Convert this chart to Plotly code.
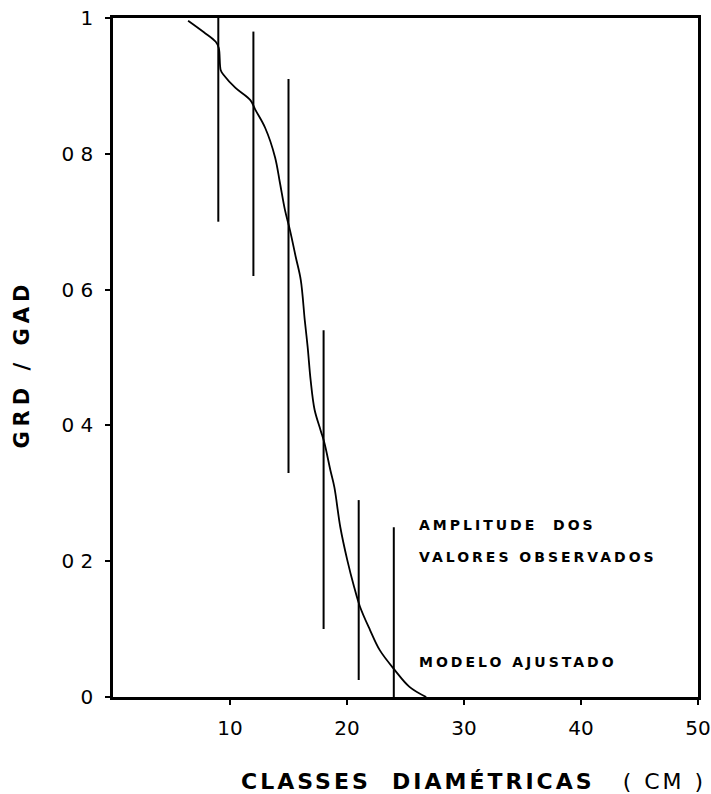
import plotly.graph_objects as go

# Diameter classes (cm) and the range of observed GRD/GAD values in each class
classes = [9, 12, 15, 18, 21, 24]
obs_min = [0.70, 0.62, 0.33, 0.10, 0.025, 0.0]
obs_max = [1.00, 0.98, 0.91, 0.54, 0.29, 0.25]

# Fitted model curve GRD/GAD vs. diameter
model_x = [6.42, 7.77, 8.78, 9.04, 9.21, 9.46, 10.47, 11.74, 12.16, 13.01,
           13.85, 14.27, 14.70, 15.12, 15.62, 16.05, 16.39, 16.64, 16.89,
           17.23, 17.74, 18.07, 18.58, 18.92, 19.43, 20.02, 20.61, 21.11,
           21.96, 22.80, 24.07, 25.34, 26.77]
model_y = [0.996, 0.979, 0.965, 0.956, 0.923, 0.916, 0.897, 0.879, 0.865,
           0.838, 0.795, 0.757, 0.717, 0.688, 0.648, 0.614, 0.555, 0.515,
           0.467, 0.423, 0.393, 0.374, 0.334, 0.309, 0.250, 0.202, 0.162,
           0.133, 0.099, 0.069, 0.040, 0.015, 0.0]

x_ticks = [10, 20, 30, 40, 50]
x_ticktext = ["10", "20", "30", "40", "50"]
y_ticks = [0, 0.2, 0.4, 0.6, 0.8, 1.0]
y_ticktext = ["0", "0 2", "0 4", "0 6", "0 8", "1"]

# Build one trace of vertical segments (None breaks the line between classes)
seg_x, seg_y = [], []
for c, lo, hi in zip(classes, obs_min, obs_max):
    seg_x += [c, c, None]
    seg_y += [lo, hi, None]

fig = go.Figure()
fig.add_trace(go.Scatter(
    x=seg_x, y=seg_y, mode="lines",
    line=dict(color="black", width=2),
    hoverinfo="skip", showlegend=False,
))
fig.add_trace(go.Scatter(
    x=model_x, y=model_y, mode="lines",
    line=dict(color="black", width=1.8, shape="spline", smoothing=1.0),
    showlegend=False,
))

LETTER = "DejaVu Sans"

def spaced(text, sp, weight="bold"):
    return f'<span style="letter-spacing:{sp}px;font-weight:{weight}">{text}</span>'

annotations = [
    dict(x=26.0, y=0.253, xref="x", yref="y", xanchor="left", yanchor="middle",
         text=spaced("AMPLITUDE&nbsp;&nbsp;DOS", 3.0), showarrow=False,
         font=dict(family=LETTER, size=14, color="black")),
    dict(x=26.0, y=0.206, xref="x", yref="y", xanchor="left", yanchor="middle",
         text=spaced("VALORES OBSERVADOS", 3.0), showarrow=False,
         font=dict(family=LETTER, size=14, color="black")),
    dict(x=26.0, y=0.0515, xref="x", yref="y", xanchor="left", yanchor="middle",
         text=spaced("MODELO AJUSTADO", 3.0), showarrow=False,
         font=dict(family=LETTER, size=14, color="black")),
    dict(x=0.617, y=-0.125, xref="paper", yref="paper", xanchor="center", yanchor="middle",
         text=spaced("CLASSES&nbsp;&nbsp;DIAMÉTRICAS", 3.0)
         + "&nbsp;&nbsp;&nbsp;&nbsp;" + spaced("(&nbsp;CM&nbsp;)", 3, "normal"),
         showarrow=False, font=dict(family=LETTER, size=22, color="black")),
    dict(x=-0.155, y=0.49, xref="paper", yref="paper", xanchor="center", yanchor="middle",
         text=spaced("GRD&nbsp;/&nbsp;GAD", 5), textangle=-90, showarrow=False,
         font=dict(family=LETTER, size=21, color="black")),
]

fig.update_layout(
    width=711, height=794,
    margin=dict(l=113, r=13, t=18, b=97, autoexpand=False),
    paper_bgcolor="white", plot_bgcolor="white",
    annotations=annotations,
    xaxis=dict(
        range=[0, 50], tickvals=x_ticks, ticktext=x_ticktext,
        showgrid=False, zeroline=False, automargin=False,
        showline=True, linecolor="black", linewidth=2.5, mirror=True,
        ticks="outside", ticklen=5, tickwidth=1.5, tickcolor="black",
        ticklabelstandoff=6, ticklabeloverflow="allow",
        tickfont=dict(family=LETTER, size=20, color="black"),
    ),
    yaxis=dict(
        range=[0, 1], tickvals=y_ticks, ticktext=y_ticktext,
        showgrid=False, zeroline=False, automargin=False,
        showline=True, linecolor="black", linewidth=2.5, mirror=True,
        ticks="outside", ticklen=5, tickwidth=1.5, tickcolor="black",
        ticklabelstandoff=8, ticklabeloverflow="allow",
        tickfont=dict(family=LETTER, size=20, color="black"),
    ),
)

fig.write_html("out.html")
